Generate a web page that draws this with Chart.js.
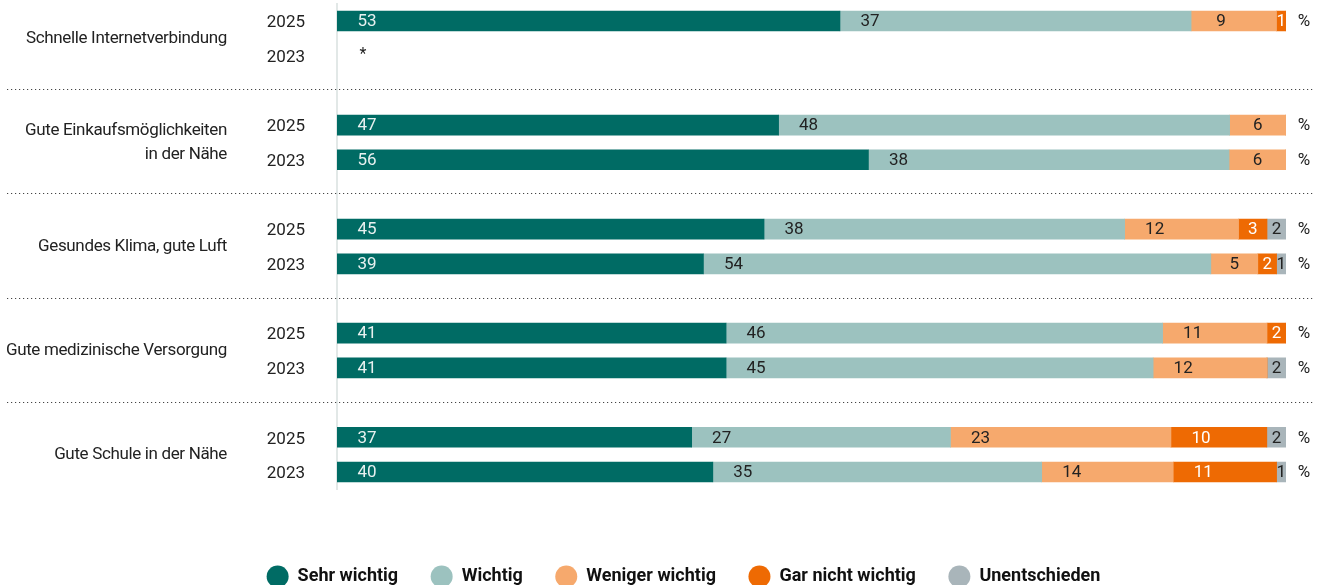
<!DOCTYPE html>
<html>
<head>
<meta charset="utf-8">
<script src="https://cdn.jsdelivr.net/npm/chart.js@4"></script>
<style>
  body { margin: 0; background: #fff; }
</style>
</head>
<body>
<canvas id="chart" width="1324" height="588"></canvas>
<script>
// Gruppen (Kategorien) und Jahre
const groups = [
  'Schnelle Internetverbindung',
  ['Gute Einkaufsmöglichkeiten', 'in der Nähe'],
  'Gesundes Klima, gute Luft',
  'Gute medizinische Versorgung',
  'Gute Schule in der Nähe'
]
const years = ['2025', '2023']

// Werte je Zeile: pro Gruppe 2025, 2023 (null = keine Daten)
const sehrWichtig     = [53, null, 47, 56, 45, 39, 41, 41, 37, 40]
const wichtig         = [37, null, 48, 38, 38, 54, 46, 45, 27, 35]
const wenigerWichtig  = [9,  null, 6,  6,  12, 5,  11, 12, 23, 14]
const garNichtWichtig = [1,  null, 0,  0,  3,  2,  2,  0,  10, 11]
const unentschieden   = [0,  null, 0,  0,  2,  1,  0,  2,  2,  1]

const seriesNames = ['Sehr wichtig', 'Wichtig', 'Weniger wichtig', 'Gar nicht wichtig', 'Unentschieden']
const seriesValues = [sehrWichtig, wichtig, wenigerWichtig, garNichtWichtig, unentschieden]
const seriesColors = ['#006b64', '#9cc2bf', '#f6a96d', '#ee6a03', '#a9b5ba']
const labelColors = ['#e8f1f0', '#222', '#222', '#fff', '#222']

const FONT = 'Roboto, "Liberation Sans", sans-serif'

// Zeilen auf Slots verteilen: 3 Slots pro Gruppe (2025, 2023, Abstand)
const nSlots = groups.length * 3 - 1
const slotOf = i => Math.floor(i / 2) * 3 + (i % 2)
const slotLabels = []
for (let s = 0; s < nSlots; s++) slotLabels.push(s % 3 === 2 ? '' : years[s % 3])

const rowSums = sehrWichtig.map((_, i) =>
  seriesValues.reduce((a, arr) => a + (arr[i] ?? 0), 0))

const datasets = seriesNames.map((name, d) => {
  const data = new Array(nSlots).fill(null)
  seriesValues[d].forEach((v, i) => {
    if (v !== null && rowSums[i] > 0) data[slotOf(i)] = v / rowSums[i] * 100
  })
  return {
    label: name,
    data,
    backgroundColor: seriesColors[d],
    borderWidth: 0,
    barThickness: 20
  }
})

const decorPlugin = {
  id: 'decor',
  afterDatasetsDraw(chart) {
    const ctx = chart.ctx
    const y = chart.scales.y
    ctx.save()

    // gepunktete Trennlinien
    ctx.strokeStyle = '#444'
    ctx.lineWidth = 1
    ctx.setLineDash([1.2, 2.8])
    for (let g = 0; g < groups.length - 1; g++) {
      const py = Math.round(y.getPixelForValue(g * 3 + 2)) - 0.5
      ctx.beginPath()
      ctx.moveTo(7, py)
      ctx.lineTo(1313, py)
      ctx.stroke()
    }
    ctx.setLineDash([])

    // Kategorienamen
    ctx.font = '17px ' + FONT
    ctx.fillStyle = '#222'
    ctx.textAlign = 'right'
    ctx.textBaseline = 'middle'
    ctx.letterSpacing = '-0.35px'
    groups.forEach((g, gi) => {
      const cy = (y.getPixelForValue(gi * 3) + y.getPixelForValue(gi * 3 + 1)) / 2
      const lines = Array.isArray(g) ? g : [g]
      lines.forEach((l, li) => {
        ctx.fillText(l, 227, cy + (li - (lines.length - 1) / 2) * 24)
      })
    })
    ctx.letterSpacing = '0px'

    // Werte in den Balken
    ctx.textAlign = 'center'
    seriesValues.forEach((arr, d) => {
      const meta = chart.getDatasetMeta(d)
      ctx.fillStyle = labelColors[d]
      arr.forEach((v, i) => {
        if (!v) return
        const bar = meta.data[slotOf(i)]
        const w = bar.x - bar.base
        ctx.fillText(String(v), bar.base + Math.min(30, w / 2), bar.y + 1)
      })
    })

    // Prozentzeichen / fehlende Daten
    ctx.fillStyle = '#222'
    sehrWichtig.forEach((v, i) => {
      const py = y.getPixelForValue(slotOf(i))
      if (v === null) {
        ctx.font = '16px ' + FONT
        ctx.fillText('*', 363, py - 1)
        ctx.font = '17px ' + FONT
      } else {
        ctx.fillText('%', 1304, py + 1)
      }
    })
    ctx.restore()
  }
}

new Chart(document.getElementById('chart'), {
  type: 'bar',
  data: { labels: slotLabels, datasets },
  options: {
    indexAxis: 'y',
    responsive: false,
    animation: false,
    layout: { padding: { left: 81, right: 38, top: 3.65, bottom: 3 } },
    scales: {
      x: {
        stacked: true,
        min: 0,
        max: 100,
        ticks: { display: false },
        grid: { display: false, drawTicks: false },
        border: { display: false },
        afterFit: s => { s.height = 45.7 }
      },
      y: {
        stacked: true,
        ticks: { color: '#222', font: { family: FONT, size: 17 }, padding: 32, labelOffset: 2 },
        grid: { display: false, drawTicks: false },
        border: { display: true, color: '#e2e8e7', width: 2 },
        afterFit: s => {
          s.width = 256
          s.paddingTop = 0
          s.paddingBottom = 0
        }
      }
    },
    plugins: {
      tooltip: { enabled: false },
      legend: {
        position: 'bottom',
        maxHeight: 50,
        labels: {
          usePointStyle: true,
          pointStyle: 'circle',
          boxHeight: 15.5,
          pointStyleWidth: 22,
          padding: 32.5,
          color: '#111',
          font: { family: FONT, size: 18, weight: 'bold' }
        }
      }
    }
  },
  plugins: [decorPlugin]
})
</script>
</body>
</html>
